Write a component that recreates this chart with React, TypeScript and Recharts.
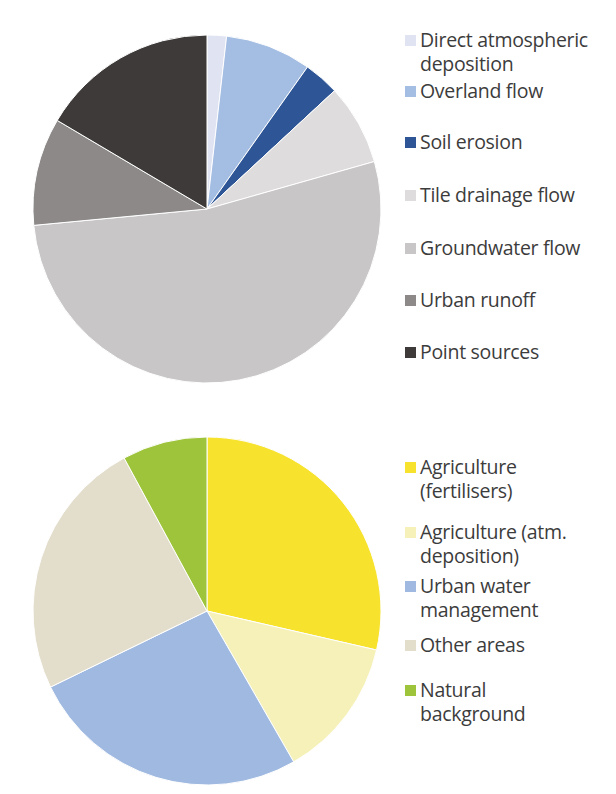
import { Cell, Legend, Pie, PieChart } from "recharts"

// top chart: pathways
const PATHWAY_NAMES = [
  "Direct atmospheric\ndeposition",
  "Overland flow",
  "Soil erosion",
  "Tile drainage flow",
  "Groundwater flow",
  "Urban runoff",
  "Point sources",
]
const PATHWAY_SHARES = [1.8, 8.0, 3.3, 7.5, 52.9, 10.0, 16.5]
const PATHWAY_COLORS = ["#dfe3f2", "#a4bde2", "#2e5696", "#dedcdc", "#c8c6c6", "#8c8988", "#3e3a39"]

// bottom chart: sources
const SOURCE_NAMES = [
  "Agriculture\n(fertilisers)",
  "Agriculture (atm.\ndeposition)",
  "Urban water\nmanagement",
  "Other areas",
  "Natural\nbackground",
]
const SOURCE_SHARES = [28.6, 13.1, 26.1, 24.3, 7.9]
const SOURCE_COLORS = ["#f7e32d", "#f6f1b9", "#9fb9e0", "#e3ddcc", "#9ec43c"]

// legend row centres (px from chart top)
const PATHWAY_LEGEND_Y = [40, 91, 142, 195, 248, 300, 352]
const SOURCE_LEGEND_Y = [67, 132, 186, 245, 290]

const FONT = "'Open Sans', Lato, sans-serif"
const LINE_H = 24

type Row = { name: string; color: string; y: number }

function SideLegend({ rows }: { rows: Row[] }) {
  return (
    <div style={{ position: "relative", width: 210, height: 380, fontFamily: FONT }}>
      {rows.map((row) => (
        <div
          key={row.name}
          style={{ position: "absolute", left: 0, top: row.y - LINE_H / 2, display: "flex", alignItems: "flex-start" }}
        >
          <span
            style={{
              width: 11,
              height: 11,
              marginTop: (LINE_H - 11) / 2,
              marginRight: 4,
              background: row.color,
              flex: "none",
            }}
          />
          <span
            style={{
              fontSize: 19.5,
              lineHeight: `${LINE_H}px`,
              color: "#3c3c3c",
              whiteSpace: "pre",
              letterSpacing: -0.3,
            }}
          >
            {row.name}
          </span>
        </div>
      ))}
    </div>
  )
}

function SharePie({
  names,
  shares,
  colors,
  legendY,
  cy,
  height,
}: {
  names: string[]
  shares: number[]
  colors: string[]
  legendY: number[]
  cy: number
  height: number
}) {
  const data = names.map((name, i) => ({ name, value: shares[i] }))
  const rows = names.map((name, i) => ({ name, color: colors[i], y: legendY[i] }))
  return (
    <PieChart width={616} height={height} margin={{ top: 0, right: 0, bottom: 0, left: 0 }}>
      <Pie
        data={data}
        dataKey="value"
        nameKey="name"
        cx={207}
        cy={cy}
        outerRadius={174}
        startAngle={90}
        endAngle={-270}
        stroke="#ffffff"
        strokeWidth={1}
        isAnimationActive={false}
      >
        {data.map((d, i) => (
          <Cell key={d.name} fill={colors[i]} />
        ))}
      </Pie>
      <Legend
        content={() => <SideLegend rows={rows} />}
        wrapperStyle={{ position: "absolute", left: 405, top: 0, width: 210 }}
      />
    </PieChart>
  )
}

export default function App() {
  return (
    <div style={{ width: 616, height: 794, background: "#ffffff", position: "relative" }}>
      <style>{`body{margin:0}`}</style>
      <SharePie
        names={PATHWAY_NAMES}
        shares={PATHWAY_SHARES}
        colors={PATHWAY_COLORS}
        legendY={PATHWAY_LEGEND_Y}
        cy={209}
        height={400}
      />
      <SharePie
        names={SOURCE_NAMES}
        shares={SOURCE_SHARES}
        colors={SOURCE_COLORS}
        legendY={SOURCE_LEGEND_Y}
        cy={211}
        height={394}
      />
    </div>
  )
}
